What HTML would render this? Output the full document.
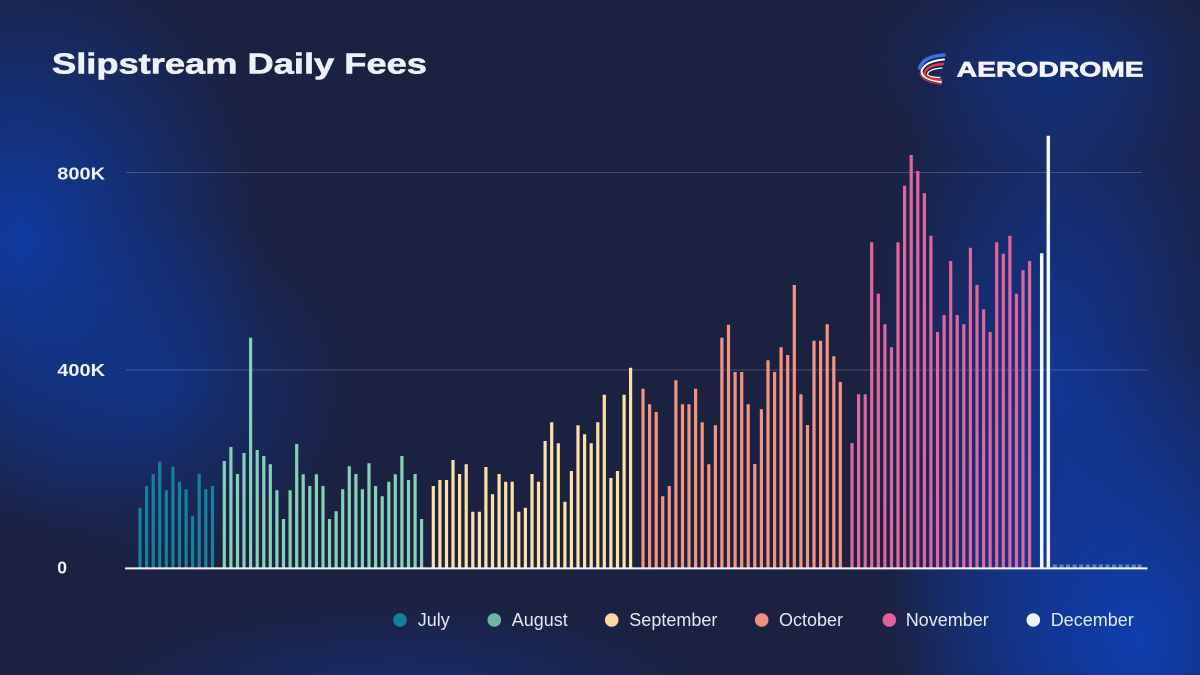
<!DOCTYPE html>
<html>
<head>
<meta charset="utf-8">
<style>
html,body{margin:0;padding:0;}
body{width:1200px;height:675px;overflow:hidden;
background:
radial-gradient(ellipse 250px 300px at 20px 240px, rgba(15,60,165,0.95), rgba(15,60,165,0) 100%),
radial-gradient(ellipse 200px 180px at 160px 390px, rgba(15,58,160,0.6), rgba(15,58,160,0) 100%),
radial-gradient(ellipse 260px 300px at 1140px 640px, rgba(15,62,175,1), rgba(15,62,175,0) 100%),
radial-gradient(ellipse 200px 420px at 1060px 380px, rgba(15,58,165,0.8), rgba(15,58,165,0) 100%),
radial-gradient(ellipse 200px 110px at 1050px 60px, rgba(15,55,150,0.55), rgba(15,55,150,0) 100%),
radial-gradient(ellipse 320px 90px at 400px 690px, rgba(20,52,140,0.6), rgba(20,52,140,0) 100%),
#1b2140;}
svg{position:absolute;left:0;top:0;}
text{font-family:"Liberation Sans",Arial,sans-serif;}
</style>
</head>
<body>
<svg width="1200" height="675" viewBox="0 0 1200 675" xmlns="http://www.w3.org/2000/svg">
<!-- title -->
<text x="52" y="73.5" font-size="29" font-weight="bold" fill="#eef1f7" stroke="#eef1f7" stroke-width="0.6" textLength="375" lengthAdjust="spacingAndGlyphs">Slipstream Daily Fees</text>

<!-- logo -->
<g fill="none" stroke-linecap="round">
<path d="M944 55 Q924 56 919.5 68" stroke="#3d6fe6" stroke-width="3.5"/>
<path d="M944 59.5 Q925 61 921.5 71 Q921 79 941 82" stroke="#ffffff" stroke-width="2"/>
<path d="M943 64 Q927 65 924.5 73 Q925 78.5 941 80" stroke="#e23a3a" stroke-width="2.4"/>
<path d="M942 68 Q929 69 927.5 74 Q928 77 940 77.5" stroke="#ffffff" stroke-width="1.2"/>
<path d="M920 74 Q923 82 941 84" stroke="#c83030" stroke-width="1.5"/>
</g>
<text x="956.7" y="76.7" font-size="21" font-weight="bold" fill="#f4f6fb" stroke="#f4f6fb" stroke-width="0.7" textLength="187" lengthAdjust="spacingAndGlyphs">AERODROME</text>

<!-- gridlines -->
<line x1="126" y1="172.5" x2="1142" y2="172.5" stroke="rgba(255,255,255,0.2)" stroke-width="1"/>
<line x1="126" y1="370" x2="1147" y2="370" stroke="rgba(255,255,255,0.2)" stroke-width="1"/>

<!-- y labels -->
<g font-size="17.5" font-weight="bold" fill="#eef1f7">
<text x="57.3" y="179.3" textLength="47.7" lengthAdjust="spacingAndGlyphs">800K</text>
<text x="57.3" y="376" textLength="47.7" lengthAdjust="spacingAndGlyphs">400K</text>
<text x="57.3" y="573.3">0</text>
</g>

<!-- bars -->
<g fill="none" stroke-width="3.2" stroke-linecap="butt">
<!-- July -->
<path stroke="#14829c" d="M140 568V507.7M146.6 568V486M153.2 568V474.3M159.7 568V461.7M166.3 568V490.3M172.9 568V466.7M179.5 568V481.7M186.1 568V489.3M192.6 568V515.7M199.2 568V473.7M205.8 568V489.3M212.4 568V486"/>
<!-- August -->
<path stroke="#86d1b6" d="M224.3 568V461M230.9 568V447M237.5 568V474M244 568V453M250.6 568V337.7M257.2 568V450M263.8 568V456M270.3 568V464.3M276.9 568V490.3M283.5 568V519M290.1 568V490.3M296.7 568V444M303.2 568V474.3M309.8 568V486M316.4 568V474.3M323 568V486M329.5 568V519M336.1 568V511.3M342.7 568V489.3M349.3 568V466.3M355.9 568V474M362.4 568V489.3M369 568V463.3M375.6 568V486M382.2 568V496.3M388.8 568V481.7M395.3 568V474.3M401.9 568V456M408.5 568V480M415.1 568V474M421.6 568V519"/>
<!-- September -->
<path stroke="#fde2a6" d="M433.3 568V486M439.9 568V480M446.5 568V480M453 568V460M459.6 568V474M466.2 568V464.3M472.8 568V511.7M479.4 568V511.7M485.9 568V467M492.5 568V494.3M499.1 568V474M505.7 568V481.7M512.2 568V481.7M518.8 568V511.7M525.4 568V507.7M532 568V474M538.5 568V481.7M545.1 568V441M551.7 568V422.3M558.3 568V443.3M564.9 568V501.7M571.4 568V471M578 568V425.3M584.6 568V434.3M591.2 568V443.3M597.8 568V422.3M604.3 568V394.7M610.9 568V478M617.5 568V471M624.1 568V394.7M630.6 568V367.7"/>
<!-- October -->
<path stroke="#f4947f" d="M643 568V388.7M649.6 568V404.3M656.2 568V412M662.7 568V496.3M669.3 568V486M675.9 568V380.3M682.5 568V404.3M689 568V404.3M695.6 568V388.7M702.2 568V422.3M708.8 568V464.3M715.4 568V425.3M721.9 568V337.7M728.5 568V324.7M735.1 568V372M741.7 568V372M748.2 568V404.3M754.8 568V464M761.4 568V409.3M768 568V360.3M774.6 568V372M781.1 568V347.3M787.7 568V355M794.3 568V285M800.9 568V394.3M807.5 568V425M814 568V340.7M820.6 568V340.7M827.2 568V324.3M833.8 568V356.3M840.3 568V382"/>
<!-- November -->
<path stroke="#e2659b" d="M852 568V443M858.6 568V394.3M865.2 568V394.3M871.7 568V242.3M878.3 568V293.7M884.9 568V324.3M891.5 568V347.3M898 568V242.3M904.6 568V185.7M911.2 568V155M917.8 568V171M924.4 568V193.3M930.9 568V235.7M937.5 568V332M944.1 568V315M950.7 568V261M957.2 568V315M963.8 568V324.3M970.4 568V247.7M977 568V285M983.6 568V309.3M990.1 568V332M996.7 568V242.3M1003.3 568V253.7M1009.9 568V235.7M1016.5 568V293.7M1023 568V270.3M1029.6 568V261"/>
<!-- December -->
<path stroke="#f3f6ff" stroke-width="3.5" d="M1041.7 568V253.3M1048.3 568V135.7"/>
<path stroke="rgba(170,190,235,0.55)" stroke-width="4" d="M1054.9 568V564.5M1061.5 568V564.5M1068 568V564.5M1074.6 568V564.5M1081.2 568V564.5M1087.8 568V564.5M1094.4 568V564.5M1100.9 568V564.5M1107.5 568V564.5M1114.1 568V564.5M1120.7 568V564.5M1127.2 568V564.5M1133.8 568V564.5M1139.6 568V564.5"/>
</g>

<!-- baseline -->
<line x1="125" y1="568.4" x2="1147.5" y2="568.4" stroke="#f4f6fb" stroke-width="2"/>

<!-- legend -->
<g font-size="18" fill="#e6e9f2">
<circle cx="400" cy="620" r="6.8" fill="#177f99"/>
<text x="417.7" y="626">July</text>
<circle cx="494.3" cy="620" r="6.8" fill="#6fb5a2"/>
<text x="511.7" y="626">August</text>
<circle cx="611.7" cy="620" r="6.8" fill="#f8d99f"/>
<text x="629.3" y="626">September</text>
<circle cx="761.7" cy="620" r="6.8" fill="#f08e7f"/>
<text x="779" y="626">October</text>
<circle cx="889.3" cy="620" r="6.8" fill="#e0619a"/>
<text x="905.7" y="626">November</text>
<circle cx="1033.3" cy="620" r="6.8" fill="#eef2f9"/>
<text x="1050.7" y="626">December</text>
</g>
</svg>
</body>
</html>
